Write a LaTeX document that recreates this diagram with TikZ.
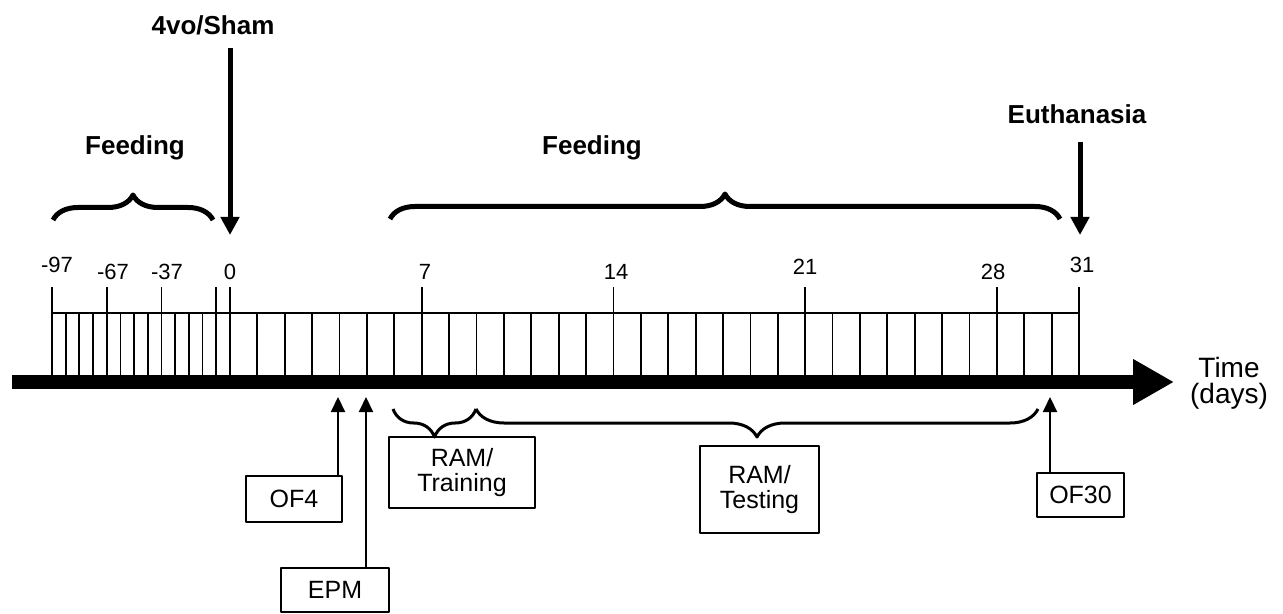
\documentclass[tikz,border=0pt]{standalone}
\usepackage{fontspec}
\setmainfont{Liberation Sans}
\usetikzlibrary{decorations.pathreplacing}
\usetikzlibrary{arrows.meta}

\begin{document}
\begin{tikzpicture}[x=0.5pt, y=-0.5pt, line join=round, >=Triangle,
		tick/.style={line width=0.9pt},
		daynum/.style={font=\fontsize{11}{13}\selectfont},
		event/.style={font=\fontsize{13}{15}\selectfont\bfseries},
		testbox/.style={draw, line width=1pt, align=center, inner sep=0pt, font=\fontsize{12.5}{12.5}\selectfont},
		bigbrace/.style={decorate, decoration={brace, amplitude=12.5pt}, line width=2.5pt},
		smallbrace/.style={decorate, decoration={brace, mirror, amplitude=14pt}, line width=1.5pt}]
		\useasboundingbox (0,0) rectangle (1283,614);
		% time axis
		\coordinate (axstart) at (12,382);
		\coordinate (axend) at (1174,382);
		\draw [line width=7pt, -{Triangle[length=20.5pt, width=21.5pt]}] (axstart) -- (axend);
		% ruler
		\draw [tick] (52,313) -- (1079,313);
		\foreach \k in {0,...,12} \draw [tick] (52+13.69*\k,313) -- (52+13.69*\k,375);
		\foreach \k in {0,4,8,12} \draw [tick] (52+13.69*\k,287) -- (52+13.69*\k,313);
		\foreach \d in {0,...,31} \draw [tick] (230+27.39*\d,313) -- (230+27.39*\d,375);
		\foreach \d in {0,7,14,21,28,31} \draw [tick] (230+27.39*\d,287) -- (230+27.39*\d,313);
		% day numbers
		\node [daynum] (d97) at (57,265) {-97};
		\node [daynum] (d67) at (113,272) {-67};
		\node [daynum] (d37) at (167,272) {-37};
		\node [daynum] (d0) at (230,272) {0};
		\node [daynum] (d7) at (425,272) {7};
		\node [daynum] (d14) at (616,272) {14};
		\node [daynum] (d21) at (805,267) {21};
		\node [daynum] (d28) at (993,272) {28};
		\node [daynum] (d31) at (1082,265) {31};
		\node [align=center, font=\fontsize{14}{13}\selectfont] (time) at (1229,383) {Time\\(days)};
		% events
		\node [event] (sham) at (213,25) {4vo/Sham};
		\coordinate (shamtop) at (230,48);
		\coordinate (shamtip) at (230,235);
		\draw [line width=2.5pt, -{Triangle[length=9pt, width=9pt]}] (shamtop) -- (shamtip);
		\node [event] (euth) at (1077,114) {Euthanasia};
		\coordinate (euthtop) at (1080,142);
		\coordinate (euthtip) at (1080,235);
		\draw [line width=2.5pt, -{Triangle[length=9pt, width=9pt]}] (euthtop) -- (euthtip);
		% feeding
		\node [event] (feedpre) at (135,148) {Feeding};
		\node [event] (feedpost) at (592,148) {Feeding};
		\draw [bigbrace] (53,220) -- (213,220);
		\draw [bigbrace] (390,219) -- (1060,219);
		% tests
		\node [testbox, minimum width=48pt, minimum height=23pt] (of4) at (294,499) {OF4};
		\node [testbox, minimum width=54pt, minimum height=22pt] (epm) at (335,590) {EPM};
		\node [testbox, minimum width=43.5pt, minimum height=22pt] (of30) at (1080.5,495) {OF30};
		\node [testbox, minimum width=73pt, minimum height=35.5pt] (train) at (462,472.5) {RAM/\\Training};
		\node [testbox, minimum width=59.5pt, minimum height=43.5pt] (test) at (759.5,489.5) {RAM/\\Testing};
		\coordinate (of4tip) at (338,397);
		\coordinate (epmtip) at (366,397);
		\coordinate (of30tip) at (1050,397);
		\draw [line width=1pt, -{Triangle[length=7.5pt, width=7pt]}] (of4.north -| of4tip) -- (of4tip);
		\draw [line width=1pt, -{Triangle[length=7.5pt, width=7pt]}] (epm.north -| epmtip) -- (epmtip);
		\draw [line width=1pt, -{Triangle[length=7.5pt, width=7pt]}] (of30.north -| of30tip) -- (of30tip);
		\draw [smallbrace] (393,409) -- (476,409);
		\draw [smallbrace] (476,409) -- (1038,409);
\end{tikzpicture}
\end{document}
